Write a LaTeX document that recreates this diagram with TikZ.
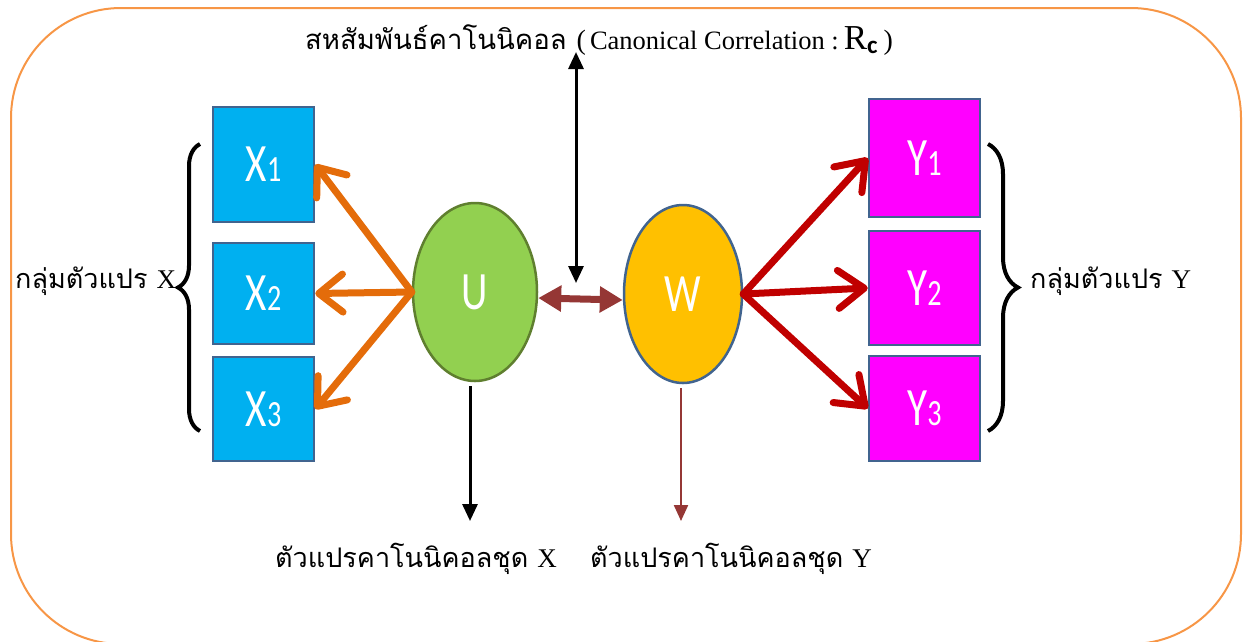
\documentclass[tikz,border=0pt]{standalone}
\usepackage{fontspec}
\setmainfont{Liberation Serif}
\newfontfamily\thaifont[Script=Thai]{Loma}
\newfontfamily\calfont{Carlito}
\usetikzlibrary{arrows.meta,shapes.geometric,decorations.pathreplacing}
\definecolor{boxcyan}{HTML}{00B0F0}
\definecolor{boxmag}{HTML}{FF00FF}
\definecolor{boxline}{HTML}{41648F}
\definecolor{ufill}{HTML}{92D050}
\definecolor{uline}{HTML}{5F7F2F}
\definecolor{wfill}{HTML}{FFC000}
\definecolor{orarrow}{HTML}{E46C0A}
\definecolor{redarrow}{HTML}{C00000}
\definecolor{darkred}{HTML}{953735}
\definecolor{frameor}{HTML}{F79646}
\newcommand\blab[2]{\scalebox{0.76}[1]{\calfont\fontsize{54}{54}\selectfont #1{\fontsize{37}{37}\selectfont #2}}}
\newcommand\elab[1]{\scalebox{0.76}[1]{\calfont\fontsize{54}{54}\selectfont #1}}
\tikzset{
  varbox/.style={draw=boxline, line width=2.5pt, inner sep=0pt, text=white},
  xbox/.style={varbox, fill=boxcyan, minimum width=101pt},
  ybox/.style={varbox, fill=boxmag, minimum width=111pt},
  canon/.style={ellipse, line width=2.5pt, inner sep=0pt, minimum width=124pt, minimum height=178pt, text=white},
  orarr/.style={draw=orarrow, line width=7pt, line cap=round, -{Straight Barb[length=24pt,width=38pt,line cap=round,line join=round]}},
  redarr/.style={draw=redarrow, line width=7pt, line cap=round, -{Straight Barb[length=26pt,width=38pt,line cap=round,line join=round]}},
  brc/.style={draw=black, line width=4pt, decorate},
  thailbl/.style={inner sep=0pt, font=\thaifont\fontsize{27}{27}\selectfont},
}
\begin{document}
\begin{tikzpicture}[x=1pt,y=-1pt]
\useasboundingbox (0,0) rectangle (1245,641);
\begin{scope}
\clip (0,0) rectangle (1245,641);
\draw[draw=frameor, line width=2pt, rounded corners=110pt] (11,8) rectangle (1241,644);
\end{scope}

% boxes
\node[xbox, minimum height=115pt] (X1) at (263.5,164.5) {\blab{X}{1}};
\node[xbox, minimum height=101pt] (X2) at (263.5,293.5) {\blab{X}{2}};
\node[xbox, minimum height=104pt] (X3) at (263.5,409) {\blab{X}{3}};
\node[ybox, minimum height=118pt] (Y1) at (924.5,158) {\blab{Y}{1}};
\node[ybox, minimum height=114pt] (Y2) at (924.5,288) {\blab{Y}{2}};
\node[ybox, minimum height=105pt] (Y3) at (924.5,408.5) {\blab{Y}{3}};

% ellipses
\node[canon, draw=uline, fill=ufill] (U) at (475,292) {\elab{U}};
\node[canon, draw=boxline, fill=wfill, minimum width=118pt] (W) at (683,294) {\elab{W}};

% arrows
\draw[orarr] (U.west) -- (X1.east);
\draw[orarr] (U.west) -- (X2.east);
\draw[orarr] (U.west) -- (X3.east);
\draw[redarr] (W.east) -- (Y1.west);
\draw[redarr] (W.east) -- (Y2.west);
\draw[redarr] (W.east) -- (Y3.west);

\draw[draw=darkred, line width=7pt, {Triangle[length=23pt,width=25pt]}-{Triangle[length=23pt,width=25pt]}]
  ([yshift=-6pt]U.east) -- ([yshift=-6pt]W.west);

% title and Rc arrow
\node[anchor=base west, inner sep=0pt] (title) at (305,49)
  {{\thaifont\fontsize{27.5}{28}\selectfont สหสัมพันธ์คาโนนิคอล}\hspace{10pt}{\fontsize{28}{28}\selectfont(}\hspace{4pt}{\fontsize{26.5}{26}\selectfont Canonical Correlation :}\hspace{5pt}{\fontsize{35}{35}\selectfont R}{\calfont\bfseries\fontsize{25}{25}\selectfont\raisebox{-4pt}{c}}\hspace{6pt}{\fontsize{28}{28}\selectfont)}};
\coordinate (rtop) at (576,52);
\coordinate (rbot) at (576,283);
\draw[line width=3pt, {Triangle[length=17pt,width=15pt]}-{Triangle[length=17pt,width=15pt]}] (rtop) -- (rbot);

% canonical variate arrows and labels
\coordinate (ux) at (470,521);
\coordinate (wy) at (681,521);
\draw[line width=3pt, -{Triangle[length=17pt,width=15pt]}] (U.south -| ux) ++(0,4) -- (ux);
\draw[draw=darkred, line width=2.2pt, -{Triangle[length=16pt,width=14pt]}] (W.south -| wy) ++(0,4) -- (wy);
\node[thailbl, anchor=base west] (lx) at (275,567) {ตัวแปรคาโนนิคอลชุด {\rmfamily X}};
\node[thailbl, anchor=base west] (ly) at (590,567) {ตัวแปรคาโนนิคอลชุด {\rmfamily Y}};

% braces
\draw[brc, decoration={brace, amplitude=22pt}] (200,431) -- (200,144);
\draw[brc, decoration={brace, amplitude=30pt}] (988,144) -- (988,431);
\node[thailbl, anchor=base west] (gx) at (15,288) {กลุ่มตัวแปร {\rmfamily X}};
\node[thailbl, anchor=base west] (gy) at (1030,288) {กลุ่มตัวแปร {\rmfamily Y}};
\end{tikzpicture}
\end{document}
